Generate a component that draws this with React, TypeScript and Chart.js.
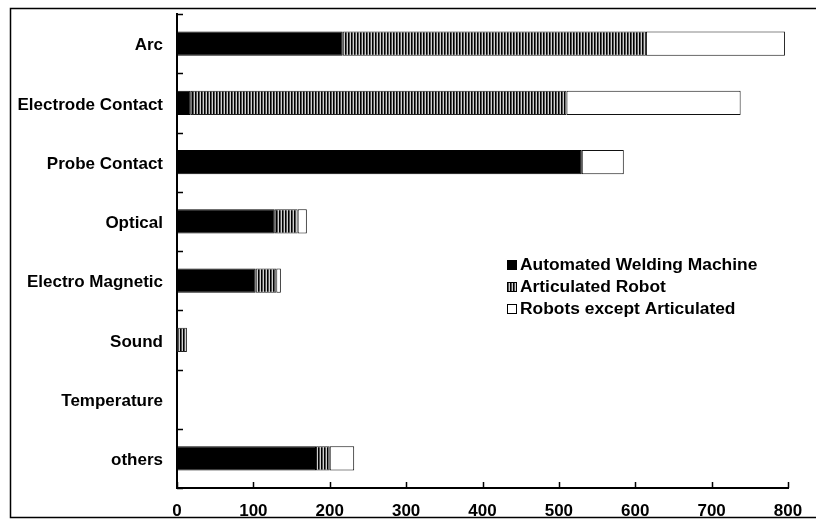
import React, { useEffect, useRef } from 'react';
import { Chart, registerables } from 'chart.js';

Chart.register(...registerables);

const categories = ['Arc', 'Electrode Contact', 'Probe Contact', 'Optical', 'Electro Magnetic', 'Sound', 'Temperature', 'others'];
const seriesNames = ['Automated Welding Machine', 'Articulated Robot', 'Robots except Articulated'];
const automatedWelding = [217, 18, 530, 128, 103, 0, 0, 182];
const articulatedRobot = [397, 492, 0, 30, 27, 13, 0, 18];
const robotsExceptArticulated = [182, 228, 55, 12, 6, 0, 0, 32];
const xMin = 0;
const xMax = 800;
const xStep = 100;

const FONT = '"Liberation Sans", Arial, Helvetica, sans-serif';

const framePlugin = {
  id: 'frame',
  beforeDraw(chart: any) {
    const { ctx } = chart;
    ctx.save();
    ctx.fillStyle = '#fff';
    ctx.fillRect(0, 0, chart.width, chart.height);
    ctx.strokeStyle = '#000';
    ctx.lineWidth = 1.5;
    ctx.beginPath();
    ctx.moveTo(chart.width + 2, 8.5);
    ctx.lineTo(10.5, 8.5);
    ctx.lineTo(10.5, 517.5);
    ctx.lineTo(chart.width + 2, 517.5);
    ctx.stroke();
    ctx.restore();
  },
};

const ticksPlugin = {
  id: 'innerTicks',
  afterDraw(chart: any) {
    const { ctx, chartArea } = chart;
    const xs = chart.scales.x;
    const ys = chart.scales.y;
    ctx.save();
    ctx.strokeStyle = '#000';
    ctx.lineWidth = 1.5;
    ctx.beginPath();
    xs.ticks.forEach((t: any) => {
      const px = Math.round(xs.getPixelForValue(t.value)) + 0.5;
      ctx.moveTo(px, chartArea.bottom);
      ctx.lineTo(px, chartArea.bottom - 6);
    });
    for (let i = 0; i <= categories.length; i++) {
      const py = Math.round(ys.getPixelForValue(i - 0.5)) + 0.5;
      ctx.moveTo(chartArea.left, py);
      ctx.lineTo(chartArea.left + 6, py);
    }
    ctx.stroke();
    ctx.restore();
  },
};

const legendPlugin = {
  id: 'innerLegend',
  afterDraw(chart: any) {
    const { ctx, chartArea } = chart;
    const x0 = chartArea.left + 330;
    const y0 = chartArea.top + 250.5;
    ctx.save();
    ctx.font = 'bold 17.4px ' + FONT;
    ctx.textBaseline = 'middle';
    ctx.textAlign = 'left';
    chart.data.datasets.forEach((ds: any, i: number) => {
      const y = Math.round(y0 + i * 22.2);
      ctx.fillStyle = ds.backgroundColor;
      ctx.fillRect(x0, y - 5, 10, 10);
      ctx.strokeStyle = '#000';
      ctx.lineWidth = 1;
      ctx.strokeRect(x0 + 0.5, y - 4.5, 9, 9);
      ctx.fillStyle = '#000';
      ctx.fillText(ds.label, x0 + 13, y + 0.5);
    });
    ctx.restore();
  },
};

export default function App() {
  const ref = useRef<HTMLCanvasElement | null>(null);

  useEffect(() => {
    const canvas = ref.current;
    if (!canvas) return;
    const ctx = canvas.getContext('2d');
    if (!ctx) return;

    const pc = document.createElement('canvas');
    pc.width = 3;
    pc.height = 1;
    const pctx = pc.getContext('2d')!;
    pctx.fillStyle = '#d0d0d0';
    pctx.fillRect(0, 0, 3, 1);
    pctx.fillStyle = '#000';
    pctx.fillRect(0, 0, 1, 1);
    pctx.fillStyle = '#555';
    pctx.fillRect(1, 0, 1, 1);
    const hatch = ctx.createPattern(pc, 'repeat');

    const common = {
      borderWidth: 1,
      borderSkipped: false,
      barPercentage: 0.41,
      categoryPercentage: 1,
      stack: 's',
    };

    const chart = new Chart(ctx, {
      type: 'bar',
      data: {
        labels: categories,
        datasets: [
          { label: seriesNames[0], data: automatedWelding, backgroundColor: '#000', borderColor: '#000', ...common },
          { label: seriesNames[1], data: articulatedRobot, backgroundColor: hatch as any, borderColor: '#222', ...common },
          { label: seriesNames[2], data: robotsExceptArticulated, backgroundColor: '#fff', borderColor: '#111', ...common },
        ],
      },
      options: {
        indexAxis: 'y',
        responsive: false,
        animation: false,
        devicePixelRatio: 1,
        layout: { padding: { left: 0, right: 28, top: 14, bottom: 0 } },
        plugins: {
          legend: { display: false },
          tooltip: { enabled: false },
          title: { display: false },
        },
        scales: {
          x: {
            type: 'linear',
            stacked: true,
            min: xMin,
            max: xMax,
            ticks: {
              stepSize: xStep,
              color: '#000',
              padding: 13,
              font: { family: FONT, size: 17, weight: 'bold' },
              maxRotation: 0,
            },
            grid: { display: false, drawTicks: false },
            border: { display: true, color: '#000', width: 2 },
            afterFit(scale: any) {
              scale.height = 31;
            },
          },
          y: {
            type: 'category',
            stacked: true,
            offset: true,
            ticks: {
              color: '#000',
              padding: 14,
              labelOffset: 2,
              font: { family: FONT, size: 17, weight: 'bold' },
              autoSkip: false,
            },
            grid: { display: false, drawTicks: false, offset: true },
            border: { display: true, color: '#000', width: 2 },
            afterFit(scale: any) {
              scale.width = 177;
              scale.paddingTop = 0;
              scale.paddingBottom = 0;
            },
          },
        },
      } as any,
      plugins: [framePlugin, ticksPlugin, legendPlugin],
    });

    return () => chart.destroy();
  }, []);

  return (
    <div style={{ position: 'fixed', left: 0, top: 0, width: 816, height: 519, background: '#fff' }}>
      <canvas ref={ref} width={816} height={519} style={{ display: 'block', width: 816, height: 519 }} />
    </div>
  );
}
